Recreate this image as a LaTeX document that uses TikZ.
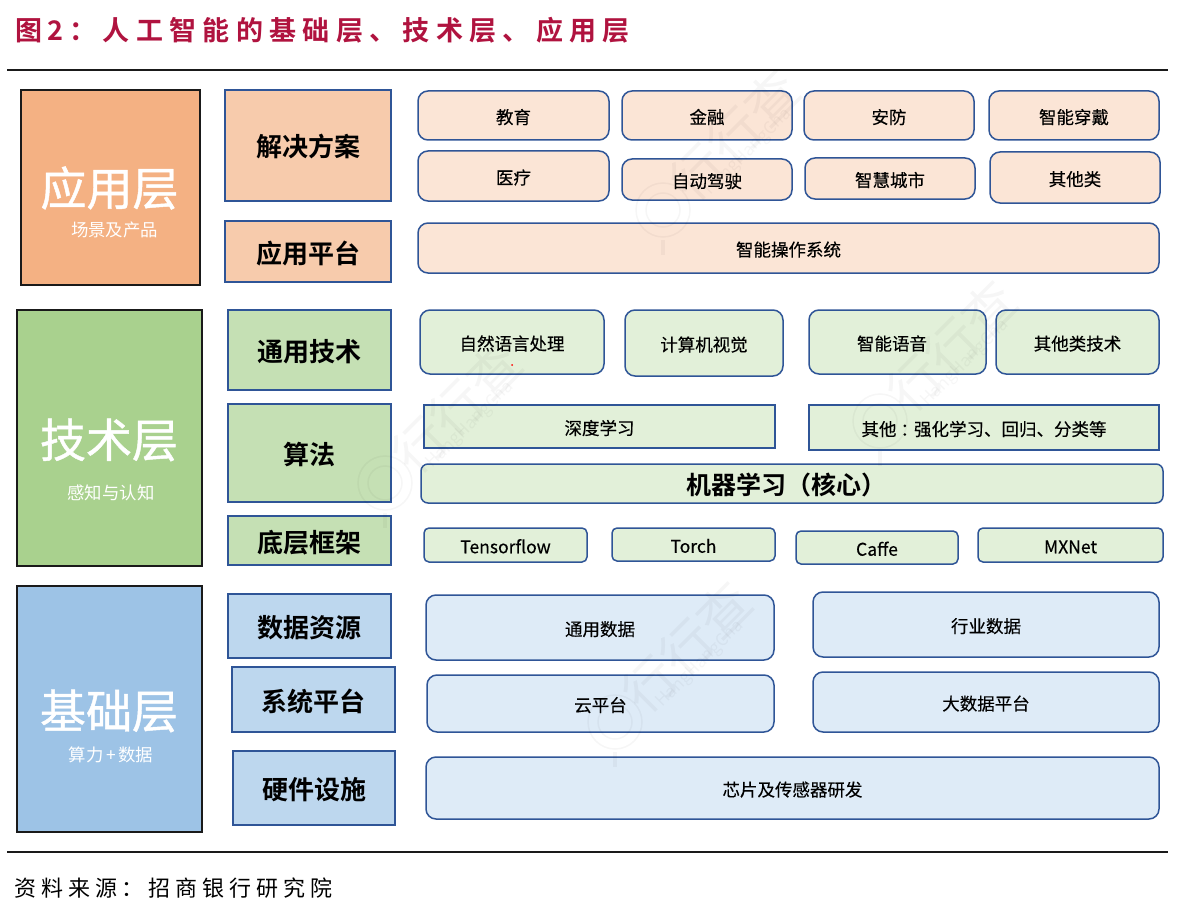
\documentclass[tikz,border=0pt]{standalone}
\usepackage{fontspec}
\setmainfont{Noto Sans CJK SC}[BoldFont=* Bold]
\newfontfamily\midfont{Noto Sans CJK SC}[FakeBold=1]
\newfontfamily\thinfont{Noto Sans CJK SC}[FakeBold=0.3]
\newfontfamily\titlefont{Noto Sans CJK SC Bold}[LetterSpace=23.5]
\newfontfamily\notefont{Noto Sans CJK SC}[LetterSpace=22.5]
\usetikzlibrary{positioning}
\definecolor{rulecol}{HTML}{1A1A1A}
\definecolor{titlecol}{HTML}{B0133F}
\definecolor{edgecol}{HTML}{2F5597}
\definecolor{appdark}{HTML}{F4B183}
\definecolor{appmid}{HTML}{F7CBAC}
\definecolor{applight}{HTML}{FBE5D6}
\definecolor{techdark}{HTML}{A9D18E}
\definecolor{techmid}{HTML}{C5E0B4}
\definecolor{techlight}{HTML}{E2F0D9}
\definecolor{basedark}{HTML}{9DC3E6}
\definecolor{basemid}{HTML}{BDD7EE}
\definecolor{baselight}{HTML}{DEEBF7}

\begin{document}
\begin{tikzpicture}[
        x=1pt, y=-1pt,
        wh/.style 2 args={minimum width=#1pt, minimum height=#2pt},
        layerbox/.style={rectangle, draw=rulecol, line width=1.8pt, inner sep=0pt, outer sep=0pt},
        layertext/.style={text=white, font=\midfont\fontsize{46}{50}\selectfont, inner sep=0pt},
        layernote/.style={text=white, font=\fontsize{17.4}{20}\selectfont, inner sep=0pt},
        subbox/.style={rectangle, draw=edgecol, line width=1.5pt, inner sep=0pt, outer sep=0pt,
                    text height=23pt, text depth=0pt, font=\bfseries\fontsize{26}{30}\selectfont},
        plainbox/.style={rectangle, draw=edgecol, line width=1.5pt, inner sep=0pt, outer sep=0pt,
                    text height=16.5pt, text depth=0pt, font=\thinfont\fontsize{17.5}{20}\selectfont},
        itembox/.style={plainbox, rounded corners=10pt},
        smallbox/.style={plainbox, rounded corners=5pt},
        stampline/.style={draw=black, opacity=0.035, line width=1.5pt},
        stamptext/.style={rotate=45, text=black, opacity=0.035, inner sep=0pt}
      ]
        \useasboundingbox (0,0) rectangle (1178,915);
        \node[anchor=west, inner sep=0pt, text=titlecol, font=\titlefont\fontsize{27}{30}\selectfont] (title) at (15,30) {图\hspace*{5pt}2\char"FF1A\relax 人工智能的基础层、技术层、应用层};
        \coordinate (ruletopl) at (7,70);
        \coordinate (ruletopr) at (1168,70);
        \coordinate (rulebotl) at (7,852);
        \coordinate (rulebotr) at (1168,852);
        \draw[rulecol, line width=2pt] (ruletopl) -- (ruletopr);
        \draw[rulecol, line width=2pt] (rulebotl) -- (rulebotr);

        % three layers on the left
        \node[layerbox, fill=appdark, wh={179}{195}] (app) at (110.5,187.5) {};
        \node[layerbox, fill=techdark, wh={185}{256}] (tech) at (109.5,438) {};
        \node[layerbox, fill=basedark, wh={185}{246}] (base) at (109.5,709) {};
        \node[layertext] (applabel) at (109.5,188) {应用层};
        \node[layernote] (appnote) at (114.5,230) {场景及产品};
        \node[layertext] (techlabel) at (109,440) {技术层};
        \node[layernote] (technote) at (111,493) {感知与认知};
        \node[layertext] (baselabel) at (109,711) {基础层};
        \node[layernote] (basenote) at (111,755) {算力\hspace*{2.5pt}+\hspace*{2.5pt}数据};

        % application layer
        \node[subbox, fill=appmid, wh={166}{111}] (solution) at (308,145.5) {解决方案};
        \node[subbox, fill=appmid, wh={166}{61}] (platform) at (308,251.5) {应用平台};
        \node[itembox, fill=applight, wh={191}{49}] (edu) at (513.5,115.5) {教育};
        \node[itembox, fill=applight, wh={170}{49}] (fin) at (707,115.5) {金融};
        \node[itembox, fill=applight, wh={170}{49}] (sec) at (889,115.5) {安防};
        \node[itembox, fill=applight, wh={170}{49}] (wear) at (1074,115.5) {智能穿戴};
        \node[itembox, fill=applight, wh={191}{50}] (med) at (513.5,176) {医疗};
        \node[itembox, fill=applight, wh={170}{41}] (auto) at (707,179.5) {自动驾驶};
        \node[itembox, fill=applight, wh={170}{41}] (city) at (890,178.5) {智慧城市};
        \node[itembox, fill=applight, wh={170}{51}] (others) at (1075,177.5) {其他类};
        \node[itembox, fill=applight, wh={741}{50}] (os) at (788.5,248) {智能操作系统};

        % technology layer
        \node[subbox, fill=techmid, wh={163}{80}] (general) at (309.5,350) {通用技术};
        \node[subbox, fill=techmid, wh={163}{98}] (algo) at (309.5,453) {算法};
        \node[subbox, fill=techmid, wh={163}{49}] (frame) at (309.5,540.5) {底层框架};
        \node[itembox, fill=techlight, wh={184}{64}] (nlp) at (512,342) {自然语言处理};
        \node[itembox, fill=techlight, wh={158}{66}] (cv) at (704,343) {计算机视觉};
        \node[itembox, fill=techlight, wh={177}{64}] (speech) at (897.5,342) {智能语音\hspace*{11pt}};
        \node[itembox, fill=techlight, wh={163}{64}] (othertech) at (1077.5,342) {其他类技术};
        \node[plainbox, fill=techlight, wh={351}{43}] (deep) at (599.5,426.5) {深度学习};
        \node[plainbox, fill=techlight, wh={350}{45}] (rest) at (984,427.5) {其他\hspace*{4pt}\char"FF1A\relax\hspace*{-4pt}强化学习、回归、分类等};
        \node[smallbox, rounded corners=7pt, fill=techlight, wh={742}{39}, text height=22pt, font=\bfseries\fontsize{25}{28}\selectfont] (ml) at (792,483.5) {机器学习\char"FF08\relax 核心\char"FF09\relax\hspace*{12pt}};
        \node[smallbox, fill=techlight, wh={163}{34}] (tf) at (505.5,545) {Tensorflow};
        \node[smallbox, fill=techlight, wh={163}{33}] (torch) at (693.5,544.5) {Torch};
        \node[smallbox, fill=techlight, wh={162}{33}] (caffe) at (877,547.5) {Caffe};
        \node[smallbox, fill=techlight, wh={185}{34}] (mxnet) at (1070.5,545) {MXNet};

        % base layer
        \node[subbox, fill=basemid, wh={163}{64}] (data) at (309.5,626) {数据资源};
        \node[subbox, fill=basemid, wh={163}{65}] (system) at (313.5,699.5) {系统平台};
        \node[subbox, fill=basemid, wh={162}{74}] (hardware) at (314,788) {硬件设施};
        \node[itembox, fill=baselight, wh={348}{65}] (common) at (600,627.5) {通用数据};
        \node[itembox, fill=baselight, wh={346}{65}] (industry) at (986,624.5) {行业数据};
        \node[itembox, fill=baselight, wh={347}{57}] (cloud) at (600.5,703.5) {云平台};
        \node[itembox, fill=baselight, wh={346}{60}] (bigdata) at (986,702) {大数据平台};
        \node[itembox, fill=baselight, wh={733}{62}] (chip) at (792.5,788) {芯片及传感器研发};

        \node[anchor=west, inner sep=0pt, font=\notefont\fontsize{22}{26}\selectfont] (source) at (14,888) {资料来源\char"FF1A\relax 招商银行研究院};

        % faint stamps across the page
        \foreach \sx/\sy in {663/210, 385/483, 880/421, 615/722}{
          \draw[stampline] (\sx,\sy) circle (27pt);
          \draw[stampline] (\sx,\sy) circle (17pt);
          \draw[stampline, line width=4pt] (\sx,\sy+30) -- (\sx,\sy+45);
          \node[stamptext, font=\fontsize{52}{56}\selectfont] (stamp\sx) at (\sx+72,\sy-75) {行行查};
          \node[stamptext, font=\fontsize{17}{20}\selectfont] (stampen\sx) at (\sx+85,\sy-58) {HangHangCha};
        }
        \fill[red] (512,365) circle (1pt);
\end{tikzpicture}
\end{document}
